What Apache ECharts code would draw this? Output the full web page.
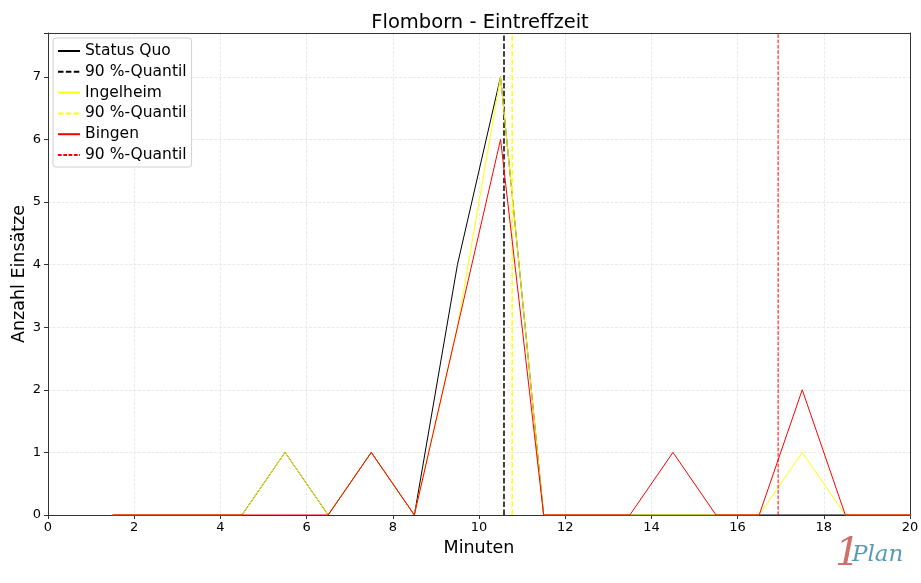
<!DOCTYPE html>
<html><head><meta charset="utf-8">
<script src="https://cdn.jsdelivr.net/npm/echarts@6/dist/echarts.min.js"></script>
<style>html,body{margin:0;padding:0;background:#fff}#c{width:921px;height:583px}</style>
</head><body><div id="c"></div>
<script>
const binCenters = [1.5,2.5,3.5,4.5,5.5,6.5,7.5,8.5,9.5,10.5,11.5,12.5,13.5,14.5,15.5,16.5,17.5,18.5,19.5,20.5];
const statusQuo  = [0,0,0,0,1,0,1,0,4,7,0,0,0,0,0,0,0,0,0,0];
const ingelheim  = [0,0,0,0,1,0,1,0,3,7,0,0,0,0,0,0,1,0,0,0];
const bingen     = [0,0,0,0,0,0,1,0,3,6,0,0,0,1,0,0,2,0,0,0];
const quantileStatusQuo = 10.58;
const quantileIngelheim = 10.77;
const quantileBingen = 16.94;
const xTicks = [0,2,4,6,8,10,12,14,16,18,20];
const yTicks = [0,1,2,3,4,5,6,7];
const yMax = 7.7;

const pts = v => binCenters.map((x,i)=>[x,v[i]]);
const vline = x => [[x,0],[x,yMax]];
const FONT = 'DejaVu Sans';
const FRAME = '#333';
const Q = '90 %-Quantil';
const names = ['Status Quo', Q, 'Ingelheim', Q+'\u200b', 'Bingen', Q+'\u200b\u200b'];
const gridLine = {show:true, lineStyle:{color:'#e4e4e4', width:0.8, type:[3,1.5]}};

const chart = echarts.init(document.getElementById('c'));
chart.setOption({
  animation:false,
  backgroundColor:'#fff',
  title:{text:'Flomborn - Eintreffzeit', left:475, top:8, textAlign:'center',
    textStyle:{fontFamily:FONT, fontSize:19.5, fontWeight:'normal', color:'#000'}},
  grid:{left:48, right:11, top:33, bottom:68, show:false,
    containLabel:false, outerBoundsMode:'none'},
  legend:{orient:'vertical', left:53, top:38, itemWidth:22, itemHeight:10, itemGap:4.8,
    padding:[5,5,4,4],
    backgroundColor:'#fff', borderColor:'#d0d0d0', borderWidth:1, borderRadius:3,
    itemStyle:{opacity:0},
    textStyle:{fontFamily:FONT, fontSize:15.5, color:'#000'},
    data:names},
  xAxis:[{type:'value', min:0, max:20, interval:2,
    name:'Minuten', nameLocation:'middle', nameGap:24, nameMoveOverlap:false,
    nameTextStyle:{fontFamily:FONT, fontSize:17.5, color:'#000', verticalAlign:'top'},
    axisLine:{show:true, lineStyle:{color:FRAME}},
    axisTick:{show:true, inside:false, length:4, lineStyle:{color:FRAME}},
    axisLabel:{fontFamily:FONT, fontSize:13, color:'#000', margin:6},
    splitLine:gridLine},
    {type:'value', position:'top', min:0, max:20, interval:2,
     axisLine:{show:true, onZero:false, lineStyle:{color:FRAME}}, axisTick:{show:false},
     axisLabel:{show:false}, splitLine:{show:false}}],
  yAxis:[{type:'value', min:0, max:yMax, interval:1,
    name:'Anzahl Einsätze', nameLocation:'middle', nameGap:20, nameMoveOverlap:false,
    nameTextStyle:{fontFamily:FONT, fontSize:17.5, color:'#000'},
    axisLine:{show:true, lineStyle:{color:FRAME}},
    axisTick:{show:true, inside:false, length:4, lineStyle:{color:FRAME}},
    axisLabel:{fontFamily:FONT, fontSize:13, color:'#000', margin:7,
      formatter:v=> yTicks.includes(v) ? String(v) : ''},
    splitLine:gridLine},
    {type:'value', position:'right', min:0, max:yMax, interval:1,
     axisLine:{show:true, onZero:false, lineStyle:{color:FRAME}}, axisTick:{show:false},
     axisLabel:{show:false}, splitLine:{show:false}}],
  series:[
    {name:names[0], type:'line', data:pts(statusQuo), symbol:'none', clip:true,
      lineStyle:{color:'#000', width:1}, itemStyle:{color:'#000'}},
    {name:names[1], type:'line', data:vline(quantileStatusQuo), symbol:'none', clip:true,
      lineStyle:{color:'#000', width:1.5, type:[5.5,2.4]}, itemStyle:{color:'#000'}},
    {name:names[2], type:'line', data:pts(ingelheim), symbol:'none', clip:true,
      lineStyle:{color:'#ffff00', width:1}, itemStyle:{color:'#ffff00'}},
    {name:names[3], type:'line', data:vline(quantileIngelheim), symbol:'none', clip:true,
      lineStyle:{color:'#ffff00', width:1.5, type:[5.5,2.4]}, itemStyle:{color:'#ffff00'}},
    {name:names[4], type:'line', data:pts(bingen), symbol:'none', clip:true,
      lineStyle:{color:'#ff0000', width:1}, itemStyle:{color:'#ff0000'}},
    {name:names[5], type:'line', data:vline(quantileBingen), symbol:'none', clip:true,
      lineStyle:{color:'#ff0000', width:1, type:[3.7,1.6]}, itemStyle:{color:'#ff0000'}}
  ],
  graphic:[
    {type:'text', left:835, top:535, style:{text:'1', font:'italic 40px "DejaVu Serif"', fill:'#d0706a'}},
    {type:'text', left:852, top:544, style:{text:'Plan', font:'italic 23px "DejaVu Serif"', fill:'#5a9ab8'}}
  ]
});
</script></body></html>
